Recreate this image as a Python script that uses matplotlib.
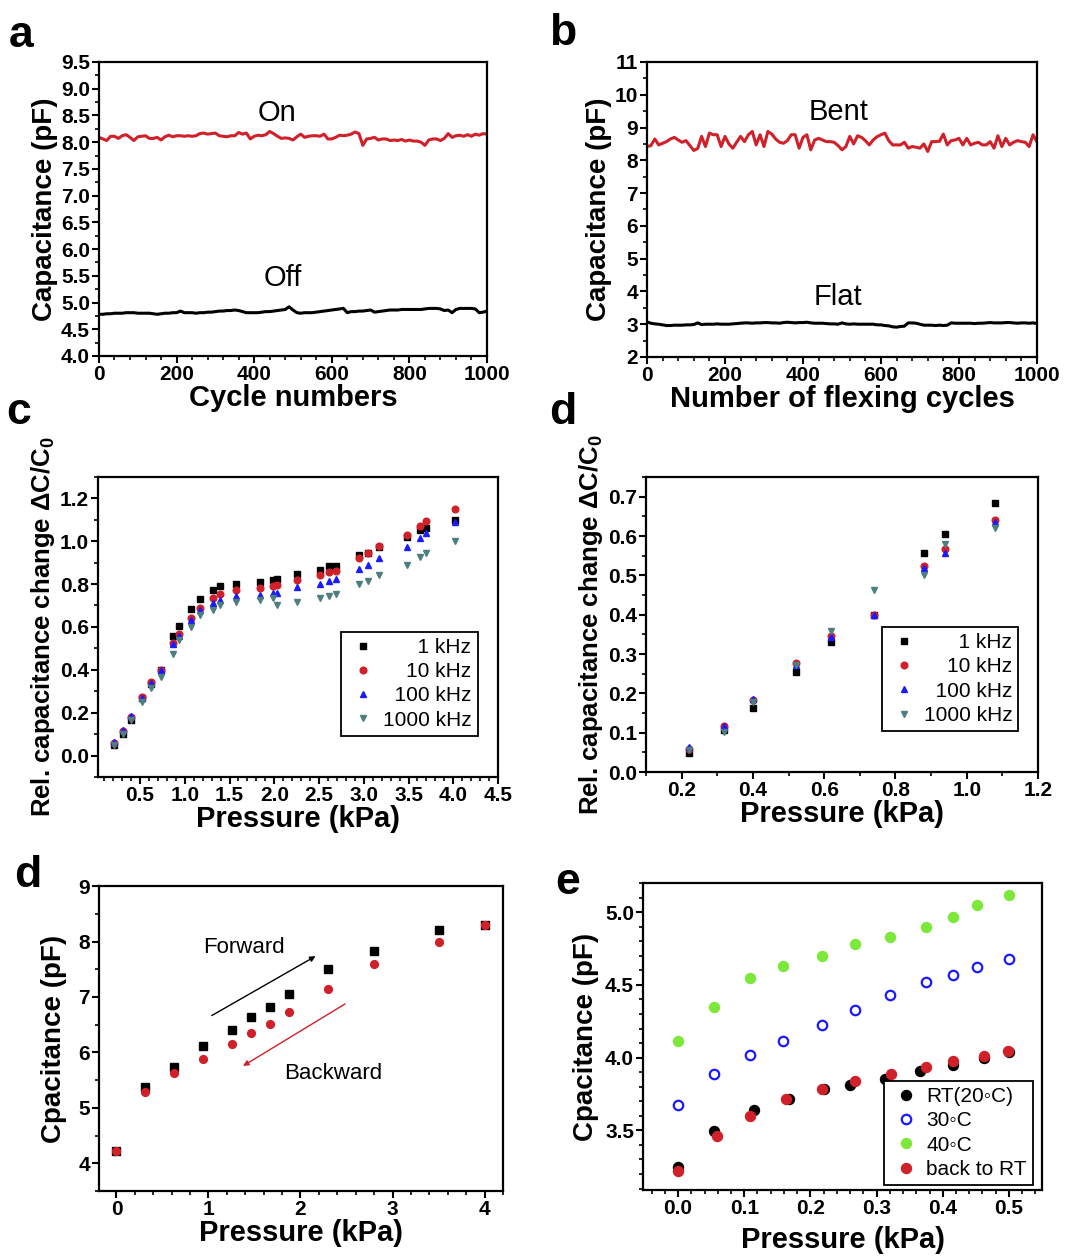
import numpy as np
import matplotlib
matplotlib.use("Agg")
import matplotlib.pyplot as plt
from matplotlib.ticker import MultipleLocator, FormatStrFormatter

plt.rcParams['font.family'] = ['Liberation Sans', 'DejaVu Sans']
plt.rcParams['mathtext.default'] = 'regular'

# ---- data ----
# (a) cycling test, every 10 cycles
cycles = np.arange(0, 1001, 10)
on_cap = [8.09, 8.06, 8.03, 8.11, 8.11, 8.07, 8.12, 8.14, 8.09, 8.03,
          8.10, 8.11, 8.12, 8.07, 8.07, 8.09, 8.04, 8.10, 8.13, 8.10,
          8.12, 8.12, 8.11, 8.12, 8.11, 8.12, 8.16, 8.17, 8.15, 8.16,
          8.17, 8.12, 8.11, 8.10, 8.12, 8.12, 8.18, 8.15, 8.17, 8.06,
          8.11, 8.13, 8.12, 8.14, 8.20, 8.16, 8.11, 8.07, 8.08, 8.07,
          8.04, 8.10, 8.15, 8.09, 8.11, 8.12, 8.12, 8.11, 8.15, 8.06,
          8.06, 8.09, 8.13, 8.12, 8.13, 8.15, 8.19, 8.16, 7.94, 8.06,
          8.07, 8.09, 8.04, 8.06, 8.06, 8.03, 8.04, 8.03, 8.05, 8.02,
          8.04, 8.02, 8.02, 8.00, 7.94, 8.04, 8.06, 8.06, 8.03, 8.07,
          8.16, 8.09, 8.12, 8.13, 8.11, 8.14, 8.11, 8.15, 8.13, 8.16, 8.15]
off_cap = [4.78, 4.78, 4.79, 4.79, 4.80, 4.80, 4.80, 4.81, 4.81, 4.81,
           4.80, 4.80, 4.80, 4.80, 4.79, 4.78, 4.79, 4.80, 4.80, 4.81,
           4.81, 4.84, 4.81, 4.81, 4.81, 4.80, 4.81, 4.81, 4.82, 4.82,
           4.83, 4.84, 4.84, 4.85, 4.85, 4.86, 4.85, 4.83, 4.81, 4.81,
           4.81, 4.81, 4.82, 4.83, 4.83, 4.84, 4.85, 4.86, 4.87, 4.92,
           4.86, 4.81, 4.80, 4.81, 4.81, 4.81, 4.82, 4.83, 4.84, 4.85,
           4.86, 4.87, 4.88, 4.89, 4.81, 4.83, 4.83, 4.84, 4.84, 4.85,
           4.86, 4.82, 4.83, 4.84, 4.85, 4.86, 4.86, 4.86, 4.87, 4.87,
           4.87, 4.87, 4.87, 4.87, 4.88, 4.89, 4.89, 4.89, 4.88, 4.85,
           4.86, 4.81, 4.87, 4.89, 4.89, 4.89, 4.89, 4.88, 4.81, 4.82, 4.84]

# (b) flexing test
bent_cap = [8.42, 8.45, 8.65, 8.47, 8.52, 8.57, 8.65, 8.70, 8.62, 8.55,
            8.60, 8.45, 8.30, 8.36, 8.73, 8.42, 8.83, 8.78, 8.78, 8.42,
            8.73, 8.50, 8.37, 8.55, 8.73, 8.57, 8.78, 8.88, 8.47, 8.78,
            8.42, 8.88, 8.80, 8.65, 8.55, 8.52, 8.60, 8.78, 8.78, 8.37,
            8.70, 8.78, 8.32, 8.62, 8.67, 8.62, 8.57, 8.57, 8.55, 8.45,
            8.32, 8.42, 8.73, 8.50, 8.75, 8.70, 8.60, 8.47, 8.62, 8.72,
            8.78, 8.83, 8.60, 8.47, 8.47, 8.47, 8.55, 8.37, 8.42, 8.40,
            8.37, 8.50, 8.27, 8.57, 8.57, 8.58, 8.80, 8.47, 8.60, 8.62,
            8.67, 8.47, 8.67, 8.47, 8.52, 8.55, 8.47, 8.47, 8.57, 8.37,
            8.75, 8.42, 8.67, 8.47, 8.55, 8.60, 8.57, 8.55, 8.42, 8.78, 8.57]
flat_cap = [3.07, 3.03, 3.01, 3.00, 2.98, 2.96, 2.96, 2.97, 2.97, 2.97,
            2.98, 2.98, 2.99, 3.04, 2.99, 3.00, 3.00, 3.00, 3.01, 3.00,
            3.00, 3.00, 3.01, 3.02, 3.03, 3.04, 3.04, 3.03, 3.04, 3.04,
            3.05, 3.05, 3.04, 3.04, 3.03, 3.05, 3.06, 3.05, 3.04, 3.05,
            3.05, 3.06, 3.04, 3.03, 3.03, 3.03, 3.02, 3.01, 3.01, 3.00,
            3.04, 3.01, 3.00, 3.01, 3.00, 3.00, 3.00, 3.00, 3.00, 2.98,
            2.98, 2.96, 2.95, 2.92, 2.91, 2.93, 2.94, 3.04, 3.04, 3.03,
            3.00, 2.97, 2.97, 2.97, 2.96, 2.97, 2.96, 2.97, 3.04, 3.03,
            3.03, 3.03, 3.03, 3.03, 3.02, 3.03, 3.03, 3.04, 3.05, 3.04,
            3.04, 3.04, 3.05, 3.05, 3.04, 3.03, 3.04, 3.04, 3.03, 3.04, 3.02]

# (c) relative change vs pressure, 4 frequencies
freq_labels = ['1 kHz', '10 kHz', '100 kHz', '1000 kHz']
p_c = [0.21, 0.31, 0.40, 0.52, 0.62, 0.73, 0.87, 0.94, 1.07, 1.17, 1.31, 1.39,
       1.57, 1.84, 1.99, 2.03, 2.25, 2.51, 2.61, 2.69, 2.95, 3.05, 3.17, 3.48,
       3.63, 3.69, 4.02]
rc_1k = [0.05, 0.10, 0.166, 0.27, 0.336, 0.40, 0.557, 0.603, 0.684, 0.732, 0.771,
         0.789, 0.80, 0.808, 0.817, 0.823, 0.848, 0.867, 0.882, 0.885, 0.935,
         0.944, 0.972, 1.018, 1.05, 1.062, 1.10]
rc_10k = [0.06, 0.115, 0.18, 0.275, 0.345, 0.40, 0.525, 0.567, 0.642, 0.69, 0.735,
          0.752, 0.77, 0.78, 0.79, 0.795, 0.82, 0.84, 0.855, 0.862, 0.922, 0.945,
          0.977, 1.03, 1.07, 1.095, 1.15]
rc_100k = [0.065, 0.12, 0.185, 0.27, 0.34, 0.40, 0.52, 0.56, 0.63, 0.68, 0.71,
           0.725, 0.745, 0.75, 0.76, 0.76, 0.785, 0.80, 0.815, 0.825, 0.87, 0.89,
           0.92, 0.975, 1.015, 1.04, 1.09]
rc_1000k = [0.048, 0.10, 0.165, 0.25, 0.315, 0.365, 0.475, 0.54, 0.60, 0.655, 0.68,
            0.70, 0.715, 0.725, 0.735, 0.70, 0.715, 0.735, 0.745, 0.755, 0.80,
            0.815, 0.84, 0.89, 0.925, 0.945, 1.0]

# (d, upper) relative change, low pressure
p_d = [0.22, 0.32, 0.40, 0.52, 0.62, 0.74, 0.88, 0.94, 1.08]
rd_1k = [0.049, 0.106, 0.163, 0.254, 0.33, 0.40, 0.557, 0.604, 0.684]
rd_10k = [0.059, 0.118, 0.183, 0.277, 0.347, 0.40, 0.523, 0.566, 0.641]
rd_100k = [0.063, 0.116, 0.186, 0.273, 0.343, 0.40, 0.518, 0.557, 0.635]
rd_1000k = [0.055, 0.102, 0.178, 0.273, 0.358, 0.463, 0.502, 0.58, 0.62]

# (d, lower) hysteresis
p_h = [0, 0.315, 0.627, 0.946, 1.257, 1.46, 1.674, 1.873, 2.30, 2.80, 3.50, 4.0]
forward_cap = [4.23, 5.37, 5.74, 6.11, 6.40, 6.63, 6.81, 7.05, 7.50, 7.83, 8.20, 8.30]
backward_cap = [4.23, 5.29, 5.62, 5.88, 6.15, 6.35, 6.52, 6.72, 7.15, 7.60, 8.00, 8.30]

# (e) temperature
p_e = [0, 0.054, 0.108, 0.159, 0.217, 0.268, 0.321, 0.375, 0.416, 0.452, 0.5]
cap_40 = [4.117, 4.345, 4.545, 4.63, 4.70, 4.78, 4.826, 4.90, 4.968, 5.048, 5.12]
cap_30 = [3.676, 3.887, 4.015, 4.116, 4.225, 4.328, 4.43, 4.518, 4.568, 4.62, 4.68]
p_rt = [0, 0.054, 0.114, 0.167, 0.22, 0.26, 0.312, 0.366, 0.416, 0.462, 0.5]
cap_rt = [3.246, 3.498, 3.637, 3.716, 3.784, 3.814, 3.855, 3.905, 3.946, 3.997, 4.04]
p_back = [0, 0.059, 0.108, 0.163, 0.217, 0.268, 0.322, 0.375, 0.416, 0.462, 0.499]
cap_back = [3.223, 3.463, 3.596, 3.716, 3.787, 3.837, 3.887, 3.935, 3.979, 4.008, 4.047]

RED = '#d0202a'
TEAL = '#4e7e80'
BLUE = '#1a1aff'
GREEN = '#7be83a'
TICK_FS = 15
XLAB_FS = 21
YLAB_FS = 20


def style(ax, xmaj, xmin, ymaj, ymin, xfmt=None, yfmt=None):
    for s in ax.spines.values():
        s.set_linewidth(1.6)
    ax.xaxis.set_major_locator(MultipleLocator(xmaj))
    ax.xaxis.set_minor_locator(MultipleLocator(xmin))
    ax.yaxis.set_major_locator(MultipleLocator(ymaj))
    ax.yaxis.set_minor_locator(MultipleLocator(ymin))
    if xfmt:
        ax.xaxis.set_major_formatter(FormatStrFormatter(xfmt))
    if yfmt:
        ax.yaxis.set_major_formatter(FormatStrFormatter(yfmt))
    ax.tick_params(which='major', direction='out', length=5, width=1.5,
                   labelsize=TICK_FS, pad=1.5)
    ax.tick_params(which='minor', direction='out', length=3, width=1.2)
    for t in ax.get_xticklabels() + ax.get_yticklabels():
        t.set_fontweight('bold')


def labels(ax, xl, yl, xpad=0, ypad=2, yfs=YLAB_FS):
    ax.set_xlabel(xl, fontsize=XLAB_FS, fontweight='bold', labelpad=xpad)
    ax.set_ylabel(yl, fontsize=yfs, fontweight='bold', labelpad=ypad)


def legend_box(ax, **kw):
    leg = ax.legend(frameon=True, fancybox=False, edgecolor='black', framealpha=1,
                    borderpad=0.3, labelspacing=0.25, handletextpad=0.2,
                    borderaxespad=0, handlelength=1.5, **kw)
    leg.get_frame().set_linewidth(1.3)
    return leg


def padded(names):
    n = max(len(s) for s in names)
    return [' ' * (2 * (n - len(s))) + s for s in names]


fig = plt.figure(figsize=(10.71, 12.57), dpi=100)

# ---- a ----
ax = fig.add_axes([0.0924, 0.7168, 0.3623, 0.2339])
ax.plot(cycles, on_cap, color=RED, lw=2.2)
ax.plot(cycles, off_cap, color='black', lw=2.2)
ax.set_xlim(0, 1000)
ax.set_ylim(4.0, 9.5)
style(ax, 200, 40, 0.5, 0.25, yfmt='%.1f')
ax.text(460, 8.55, 'On', fontsize=21, ha='center', va='center')
ax.text(475, 5.46, 'Off', fontsize=21, ha='center', va='center')
labels(ax, 'Cycle numbers', 'Capacitance (pF)')
fig.text(0.008, 0.988, 'a', fontsize=32, fontweight='bold', va='top')

# ---- b ----
ax = fig.add_axes([0.6041, 0.7160, 0.3641, 0.2347])
ax.plot(cycles, bent_cap, color=RED, lw=2.2)
ax.plot(cycles, flat_cap, color='black', lw=2.2)
ax.set_xlim(0, 1000)
ax.set_ylim(2, 11)
style(ax, 200, 40, 1, 0.5)
ax.text(490, 9.47, 'Bent', fontsize=21, ha='center', va='center')
ax.text(490, 3.83, 'Flat', fontsize=21, ha='center', va='center')
labels(ax, 'Number of flexing cycles', 'Capacitance (pF)')
fig.text(0.513, 0.990, 'b', fontsize=32, fontweight='bold', va='top')

# ---- c ----
ax = fig.add_axes([0.0915, 0.3819, 0.3735, 0.2387])
labs = padded(freq_labels)
ax.plot(p_c, rc_1k, 's', color='black', ms=4.4, label=labs[0])
ax.plot(p_c, rc_10k, 'o', color=RED, ms=4.8, label=labs[1])
ax.plot(p_c, rc_100k, '^', color=BLUE, ms=4.8, label=labs[2])
ax.plot(p_c, rc_1000k, 'v', color=TEAL, ms=4.8, label=labs[3])
ax.set_xlim(0.03, 4.5)
ax.set_ylim(-0.1, 1.3)
style(ax, 0.5, 0.1, 0.2, 0.1, xfmt='%.1f', yfmt='%.1f')
legend_box(ax, loc='lower right', bbox_to_anchor=(0.95, 0.137), prop={'size': 15})
labels(ax, 'Pressure (kPa)', r'Rel. capacitance change ΔC/C$_0$', yfs=18.5)
fig.text(0.006, 0.688, 'c', fontsize=32, fontweight='bold', va='top')

# ---- d (upper) ----
ax = fig.add_axes([0.6032, 0.3858, 0.3660, 0.2347])
ax.plot(p_d, rd_1k, 's', color='black', ms=4.4, label=labs[0])
ax.plot(p_d, rd_10k, 'o', color=RED, ms=4.8, label=labs[1])
ax.plot(p_d, rd_100k, '^', color=BLUE, ms=4.8, label=labs[2])
ax.plot(p_d, rd_1000k, 'v', color=TEAL, ms=4.8, label=labs[3])
ax.set_xlim(0.1, 1.2)
ax.set_ylim(0, 0.75)
style(ax, 0.2, 0.1, 0.1, 0.05, xfmt='%.1f', yfmt='%.1f')
legend_box(ax, loc='lower right', bbox_to_anchor=(0.95, 0.139), prop={'size': 15})
labels(ax, 'Pressure (kPa)', r'Rel. capacitance change ΔC/C$_0$', yfs=18.5)
fig.text(0.513, 0.688, 'd', fontsize=32, fontweight='bold', va='top')

# ---- d (lower) ----
ax = fig.add_axes([0.0924, 0.0525, 0.3772, 0.2426])
ax.plot(p_h, forward_cap, 's', color='black', ms=5.2)
ax.plot(p_h, backward_cap, 'o', color=RED, ms=5.6)
ax.set_xlim(-0.19, 4.2)
ax.set_ylim(3.5, 9)
style(ax, 1, 0.2, 1, 0.5)
ax.annotate('', xy=(2.19, 7.76), xytext=(1.01, 6.64),
            arrowprops=dict(arrowstyle='-|>', color='black', lw=1.0,
                            mutation_scale=8))
ax.annotate('', xy=(1.35, 5.73), xytext=(2.51, 6.90),
            arrowprops=dict(arrowstyle='-|>', color=RED, lw=1.0,
                            mutation_scale=8))
ax.text(1.39, 7.89, 'Forward', fontsize=16, ha='center', va='center')
ax.text(2.36, 5.62, 'Backward', fontsize=16, ha='center', va='center')
labels(ax, 'Pressure (kPa)', 'Cpacitance (pF)', ypad=8)
fig.text(0.013, 0.320, 'd', fontsize=32, fontweight='bold', va='top')

# ---- e ----
ax = fig.add_axes([0.6004, 0.0533, 0.3725, 0.2442])
ax.plot(p_rt, cap_rt, 'o', color='black', ms=7.2, label='RT(20◦C)')
ax.plot(p_e, cap_30, 'o', mfc='white', mec=BLUE, mew=1.6, ms=6.8, label='30◦C')
ax.plot(p_e, cap_40, 'o', color=GREEN, ms=7.2, label='40◦C')
ax.plot(p_back, cap_back, 'o', color=RED, ms=7.2, label='back to RT')
ax.set_xlim(-0.053, 0.55)
ax.set_ylim(3.09, 5.2)
style(ax, 0.1, 0.02, 0.5, 0.1, xfmt='%.1f', yfmt='%.1f')
legend_box(ax, loc='lower right', bbox_to_anchor=(0.977, 0.016), prop={'size': 15})
labels(ax, 'Pressure (kPa)', 'Cpacitance (pF)', xpad=6, ypad=4)
fig.text(0.518, 0.314, 'e', fontsize=32, fontweight='bold', va='top')

fig.savefig('out.png', dpi=100)
